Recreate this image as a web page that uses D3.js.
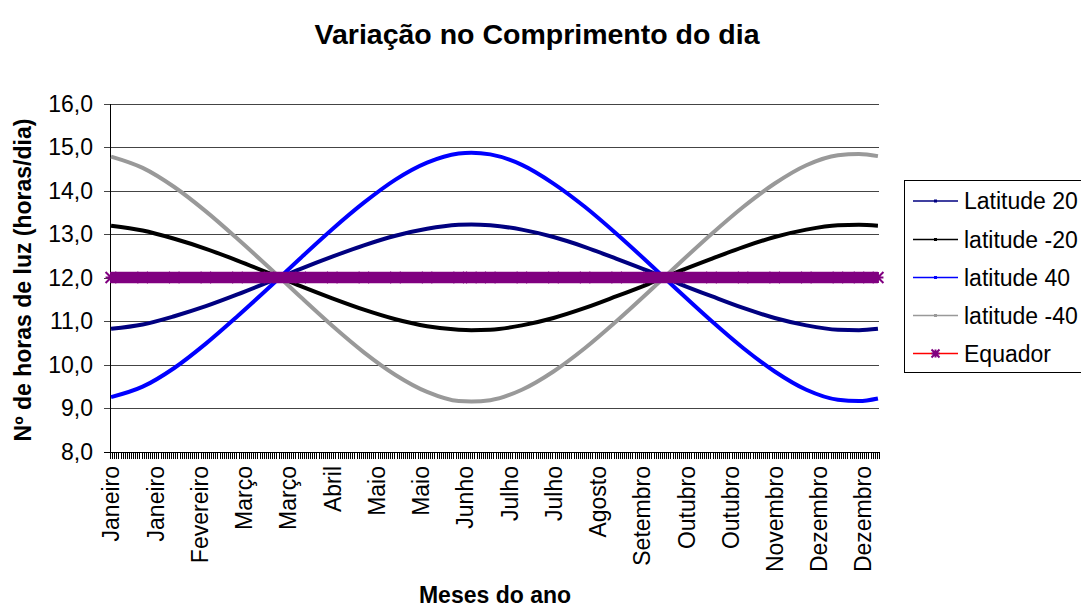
<!DOCTYPE html>
<html>
<head>
<meta charset="utf-8">
<script src="https://cdn.jsdelivr.net/npm/d3@7"></script>
<style>
  html, body { margin: 0; padding: 0; background: #fff; }
  svg { display: block; }
  text { font-family: Arial, "Liberation Sans", sans-serif; fill: #000; }
</style>
</head>
<body>
<svg id="chart" width="1081" height="609"></svg>
<script>
// Day of year (1..365) at which each series value is given
const sampleDays = [1, 16, 31, 46, 61, 76, 91, 106, 121, 136, 151, 166, 172, 181, 196, 211, 226, 241, 256, 271, 286, 301, 316, 331, 346, 356, 365];

// Hours of daylight per latitude
const lat20 = [10.82, 10.92, 11.11, 11.34, 11.61, 11.90, 12.20, 12.48, 12.74, 12.96, 13.12, 13.21, 13.22, 13.20, 13.10, 12.93, 12.70, 12.43, 12.15, 11.85, 11.57, 11.30, 11.07, 10.90, 10.80, 10.79, 10.82];
const latMinus20 = [13.19, 13.08, 12.89, 12.66, 12.39, 12.10, 11.80, 11.52, 11.26, 11.04, 10.88, 10.80, 10.79, 10.80, 10.90, 11.07, 11.30, 11.57, 11.85, 12.15, 12.43, 12.70, 12.93, 13.10, 13.20, 13.21, 13.19];
const lat40 = [9.25, 9.49, 9.92, 10.48, 11.11, 11.77, 12.45, 13.11, 13.72, 14.25, 14.64, 14.85, 14.87, 14.83, 14.59, 14.16, 13.62, 13.00, 12.34, 11.66, 11.00, 10.38, 9.84, 9.42, 9.19, 9.16, 9.22];
const latMinus40 = [14.78, 14.52, 14.08, 13.52, 12.89, 12.23, 11.55, 10.89, 10.28, 9.76, 9.37, 9.16, 9.15, 9.18, 9.42, 9.84, 10.38, 11.00, 11.66, 12.34, 13.00, 13.62, 14.16, 14.58, 14.81, 14.84, 14.79];
const equador = [12, 12, 12, 12, 12, 12, 12, 12, 12, 12, 12, 12, 12, 12, 12, 12, 12, 12, 12, 12, 12, 12, 12, 12, 12, 12, 12];

// Category axis: 365 days, labelled every 21 days
const dayCount = 365;
const labelDays = [1, 22, 43, 64, 85, 106, 127, 148, 169, 190, 211, 232, 253, 274, 295, 316, 337, 358];
const labelNames = ["Janeiro", "Janeiro", "Fevereiro", "Março", "Março", "Abril", "Maio", "Maio", "Junho", "Julho", "Julho", "Agosto", "Setembro", "Outubro", "Outubro", "Novembro", "Dezembro", "Dezembro"];

const yTicks = [8, 9, 10, 11, 12, 13, 14, 15, 16];

const seriesNames = ["Latitude 20", "latitude -20", "latitude 40", "latitude -40", "Equador"];
const seriesValues = [lat20, latMinus20, lat40, latMinus40, equador];
const seriesColors = ["#000080", "#000000", "#0000ff", "#999999", "#ff0000"];
const equadorMarkerColor = "#800080";

const svg = d3.select("#chart");
const plot = { left: 110, right: 879, top: 103.5, bottom: 451.5 };

const x = d3.scaleLinear().domain([0, dayCount]).range([plot.left, plot.right]);
const y = d3.scaleLinear().domain([8, 16]).range([plot.bottom, plot.top]);
const fmt = v => d3.format(".1f")(v).replace(".", ",");

// Title
svg.append("text")
  .attr("x", 537).attr("y", 43.5)
  .attr("text-anchor", "middle")
  .style("font-size", "28.5px").style("font-weight", "bold")
  .text("Variação no Comprimento do dia");

// Horizontal gridlines with outward ticks
const grid = svg.append("g").attr("shape-rendering", "crispEdges");
grid.selectAll("line")
  .data(yTicks)
  .join("line")
  .attr("x1", plot.left - 6).attr("x2", plot.right)
  .attr("y1", d => Math.round(y(d)) + 0.5).attr("y2", d => Math.round(y(d)) + 0.5)
  .attr("stroke", d => d === 8 ? "#000" : "#444").attr("stroke-width", 1);

// Y tick labels
svg.append("g").selectAll("text")
  .data(yTicks)
  .join("text")
  .attr("x", plot.left - 17).attr("y", d => y(d))
  .attr("dy", "0.36em")
  .attr("text-anchor", "end")
  .style("font-size", "23px")
  .text(fmt);

// Value axis line
svg.append("line")
  .attr("shape-rendering", "crispEdges")
  .attr("x1", plot.left + 0.5).attr("x2", plot.left + 0.5)
  .attr("y1", plot.top).attr("y2", Math.round(plot.bottom) + 1)
  .attr("stroke", "#000");

// Day tick marks below the category axis
svg.append("g").attr("shape-rendering", "crispEdges")
  .selectAll("line")
  .data(d3.range(dayCount + 1))
  .join("line")
  .attr("x1", d => Math.round(x(d)) + 0.5).attr("x2", d => Math.round(x(d)) + 0.5)
  .attr("y1", Math.round(plot.bottom)).attr("y2", Math.round(plot.bottom) + 7)
  .attr("stroke", "#000");

// Month labels, rotated
svg.append("g").selectAll("text")
  .data(labelDays)
  .join("text")
  .attr("transform", d => `translate(${x(d - 0.5)},466) rotate(-90)`)
  .attr("dy", "0.36em")
  .attr("text-anchor", "end")
  .style("font-size", "23px")
  .text((d, i) => labelNames[i]);

// Axis titles
svg.append("text")
  .attr("transform", "translate(23,280) rotate(-90)")
  .attr("dy", "0.36em")
  .attr("text-anchor", "middle")
  .style("font-size", "23px").style("font-weight", "bold")
  .text("Nº de horas de luz (horas/dia)");

svg.append("text")
  .attr("x", 495).attr("y", 603)
  .attr("text-anchor", "middle")
  .style("font-size", "23px").style("font-weight", "bold")
  .text("Meses do ano");

// Series lines
const line = d3.line()
  .x((d, i) => x(sampleDays[i] - 0.5))
  .y(d => y(d))
  .curve(d3.curveMonotoneX);

const lines = svg.append("g");
[0, 1, 2, 3].forEach(k => {
  lines.append("path")
    .datum(seriesValues[k])
    .attr("d", line)
    .attr("fill", "none")
    .attr("stroke", seriesColors[k])
    .attr("stroke-width", 4)
    .attr("stroke-linejoin", "round");
});

// Equator: red line covered by a dense run of purple star markers
const star = s => `M${-s},${-s}L${s},${s}M${-s},${s}L${s},${-s}M0,${-s}L0,${s}M${-s},0L${s},0`;
const eq = svg.append("g");
eq.append("path")
  .datum(equador)
  .attr("d", line)
  .attr("fill", "none")
  .attr("stroke", equadorMarkerColor)
  .attr("stroke-width", 11.5);
eq.selectAll("path.mk")
  .data(equador)
  .join("path")
  .attr("class", "mk")
  .attr("transform", (d, i) => `translate(${x(sampleDays[i] - 0.5)},${y(d)})`)
  .attr("d", star(5.5))
  .attr("fill", "none")
  .attr("stroke", equadorMarkerColor)
  .attr("stroke-width", 2);

// Legend
const legend = svg.append("g");
legend.append("rect")
  .attr("x", 904.5).attr("y", 180.5)
  .attr("width", 200).attr("height", 192)
  .attr("fill", "#fff").attr("stroke", "#000");

const legendY = [201, 239.5, 277.5, 315.5, 353.5];
seriesNames.forEach((name, k) => {
  const g = legend.append("g").attr("transform", `translate(0,${legendY[k]})`);
  g.append("line")
    .attr("x1", 913).attr("x2", 958)
    .attr("y1", 0).attr("y2", 0)
    .attr("stroke", seriesColors[k]).attr("stroke-width", 1.5);
  if (k < 4) {
    g.append("rect")
      .attr("x", 934).attr("y", -1.5).attr("width", 3).attr("height", 3)
      .attr("fill", seriesColors[k]);
  } else {
    g.append("path")
      .attr("transform", "translate(935.5,0)")
      .attr("d", star(4))
      .attr("fill", "none")
      .attr("stroke", equadorMarkerColor).attr("stroke-width", 2);
  }
  g.append("text")
    .attr("x", 964).attr("y", 0)
    .attr("dy", "0.36em")
    .style("font-size", "23px")
    .text(name);
});
</script>
</body>
</html>
